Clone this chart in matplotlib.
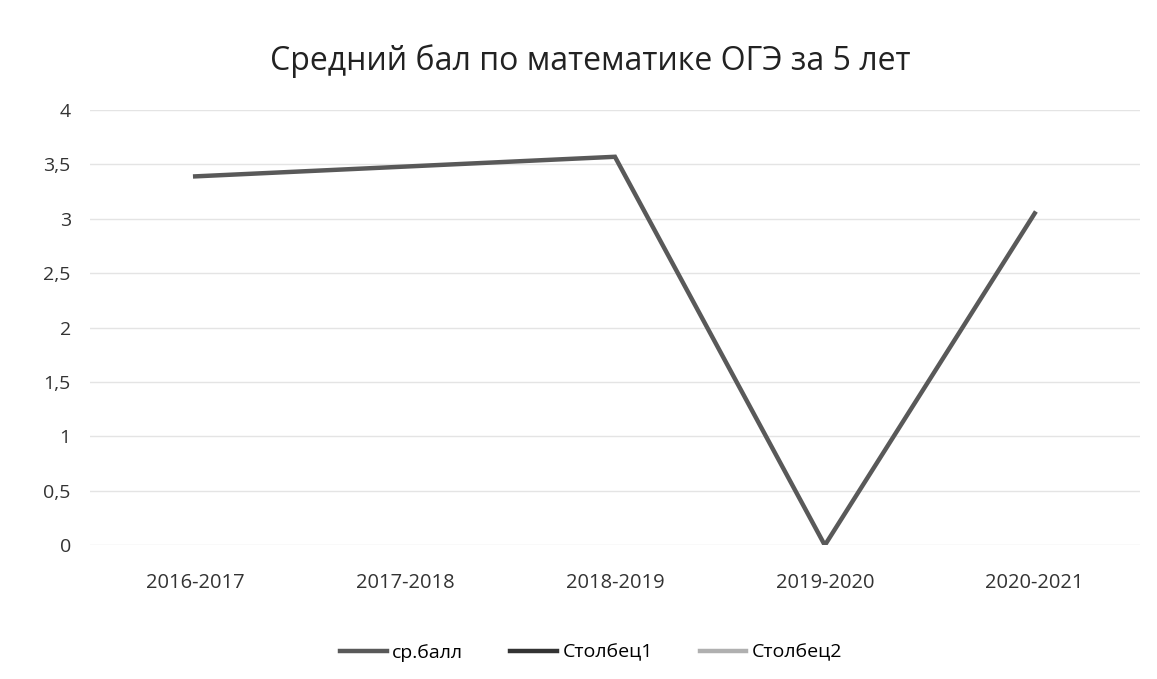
import matplotlib

matplotlib.use("Agg")
import matplotlib.pyplot as plt

plt.rcParams["font.family"] = ["Open Sans", "DejaVu Sans"]

YEARS = ["2016-2017", "2017-2018", "2018-2019", "2019-2020", "2020-2021"]
AVG_SCORE = [3.39, 3.48, 3.57, 0.0, 3.05]
COL1 = []
COL2 = []
Y_TICKS = [0, 0.5, 1, 1.5, 2, 2.5, 3, 3.5, 4]

fig = plt.figure(figsize=(11.57, 6.79), dpi=100)
ax = fig.add_axes([0.078, 0.197, 0.907, 0.641])

x = list(range(len(YEARS)))
ax.plot(x, AVG_SCORE, color="#595959", linewidth=3.2, solid_joinstyle="miter",
        label="ср.балл")
ax.plot(COL1, COL1, color="#333333", linewidth=3.2, label="Столбец1")
ax.plot(COL2, COL2, color="#b0b0b0", linewidth=3.2, label="Столбец2")

ax.set_xlim(-0.5, len(YEARS) - 0.5)
ax.set_ylim(0, 4)
ax.set_xticks(x)
ax.set_xticklabels(YEARS)
ax.set_yticks(Y_TICKS)
ax.set_yticklabels([f"{v:g}".replace(".", ",") for v in Y_TICKS])
ax.tick_params(axis="both", length=0, labelsize=14, colors="#333333")
ax.tick_params(axis="x", pad=20, labelsize=14.5)
ax.tick_params(axis="y", pad=14)
ax.grid(axis="y", color="#e4e4e4", linewidth=1)
for spine in ax.spines.values():
    spine.set_visible(False)
ax.set_axisbelow(True)

fig.suptitle("Средний бал по математике ОГЭ за 5 лет", x=0.51, y=0.935,
             fontsize=23, color="#222222")
fig.legend(loc="lower center", bbox_to_anchor=(0.511, 0.0), ncol=3, frameon=False,
           fontsize=14, handlelength=2.4, columnspacing=2.4, handletextpad=0.3)

fig.savefig("out.png", dpi=100)
